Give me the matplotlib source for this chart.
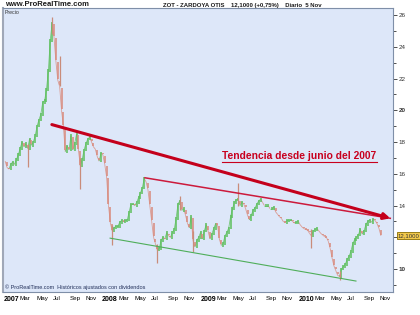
import numpy as np
import pandas as pd
import matplotlib
matplotlib.use('Agg')
import matplotlib.pyplot as plt
import matplotlib.dates as mdates
from matplotlib.collections import LineCollection

plt.rcParams['font.family'] = ['Liberation Sans', 'DejaVu Sans']

# weekly closes, 5 Jan 2007 -> 5 Nov 2010
dates = pd.date_range('2007-01-05', '2010-11-05', freq='W-FRI')
closes = [16.8, 16.4, 16.3, 16.6, 16.75, 16.6, 16.9, 17.2, 17.6, 18.0,
          17.7, 17.9, 17.6, 18.2, 17.8, 18.0, 18.4, 19.0, 19.4, 19.75,
          20.5, 20.6, 21.3, 22.5, 24.4, 25.5, 24.6, 23.1, 21.9, 21.5,
          20.0, 19.0, 17.4, 17.75, 17.5, 18.4, 17.5, 17.9, 18.5, 17.5,
          16.5, 16.9, 17.5, 17.9, 18.2, 18.3, 18.0, 17.7, 17.55, 17.1,
          16.8, 17.3, 17.2, 16.6, 15.8, 14.0, 12.9, 12.4, 12.6, 12.7,
          12.7, 12.95, 13.05, 13.0, 13.05, 13.1, 13.6, 14.1, 14.1, 14.0,
          14.2, 14.5, 14.8, 15.1, 15.7, 15.5, 15.0, 14.0, 13.0, 12.0,
          11.6, 11.2, 11.3, 11.8, 12.0, 11.9, 12.3, 12.1, 12.0, 12.3,
          12.5, 13.2, 14.1, 14.3, 13.7, 13.8, 13.4, 12.9, 12.6, 13.3,
          11.8, 11.4, 11.8, 12.0, 12.3, 11.9, 12.4, 12.8, 12.4, 11.9,
          12.2, 12.55, 12.85, 12.8, 11.9, 11.5, 11.6, 12.1, 12.3, 12.6,
          13.3, 13.8, 14.2, 14.35, 14.4, 14.0, 14.2, 14.1, 13.8, 13.4,
          13.1, 13.4, 13.7, 13.85, 14.1, 14.3, 14.4, 14.2, 14.0, 14.0,
          14.0, 13.8, 13.8, 13.9, 13.6, 13.45, 13.3, 13.2, 13.0, 12.95,
          13.05, 13.1, 13.1, 13.0, 12.9, 12.95, 13.0, 12.8, 12.65, 12.55,
          12.5, 12.45, 12.25, 12.1, 12.4, 12.5, 12.55, 12.4, 12.25, 12.15,
          12.05, 12.0, 11.75, 11.3, 10.7, 10.2, 9.9, 9.6, 9.55, 10.0,
          10.15, 10.3, 10.6, 10.8, 11.1, 11.6, 11.85, 12.0, 12.15, 12.5,
          12.2, 12.4, 12.8, 13.0, 13.1, 12.95, 13.15, 13.05, 12.85, 12.55,
          12.1]

# weeks whose intraday range sticks out of the line
spike_week = [12, 25, 29, 40, 57, 81, 93, 100, 124, 163, 178]
spike_low = [16.4, 24.8, 21.5, 15.05, 11.5, 10.4, 13.7, 11.1, 14.0, 11.3, 9.3]
spike_high = [17.9, 25.9, 23.4, 17.0, 12.8, 11.6, 14.6, 12.4, 15.4, 12.5, 9.9]

# trend lines (date, price)
trend_main = (['2007-06-28', '2010-12-10'], [19.1, 13.2])
trend_thin = (['2008-06-09', '2010-12-10'], [15.75, 13.2])
trend_low = (['2008-01-31', '2010-08-04'], [11.95, 9.25])

last_price = 12.1
month_labels = ['2007', 'Mar', 'May', 'Jul', 'Sep', 'Nov',
                '2008', 'Mar', 'May', 'Jul', 'Sep', 'Nov',
                '2009', 'Mar', 'May', 'Jul', 'Sep', 'Nov',
                '2010', 'Mar', 'May', 'Jul', 'Sep', 'Nov']

fig = plt.figure(figsize=(4.2, 3.15), dpi=100)
ax = fig.add_axes([3/420, 1 - 292/315, 390/420, 284/315])
ax.set_facecolor('#dde7f9')

x = mdates.date2num(dates)
c = np.array(closes)
up = '#5cbf5c'
down = '#d98a7c'
cols = [up if c[i + 1] >= c[i] else down for i in range(len(c) - 1)]
# thin link between weeks, then bar bodies from previous close to close
segs = [[(x[i], c[i]), (x[i + 1], c[i + 1])] for i in range(len(c) - 1)]
ax.add_collection(LineCollection(segs, colors=cols, linewidths=0.6, alpha=0.8))
bars = [[(x[i], c[i - 1] - 0.08), (x[i], c[i] + 0.08)] for i in range(1, len(c))]
ax.add_collection(LineCollection(bars, colors=cols, linewidths=1.1))
for w, lo, hi in zip(spike_week, spike_low, spike_high):
    ax.vlines(x[w], lo, hi, color='#c98c7a', lw=0.9)

for (dd, vv), col, lw in [(trend_main, '#c4001c', 2.2),
                          (trend_thin, '#cc1a3c', 1.1),
                          (trend_low, '#4fae5a', 0.8)]:
    xx = [mdates.datestr2num(s) for s in dd]
    if lw > 2:
        ax.annotate('', xy=(xx[1], vv[1]), xytext=(xx[0], vv[0]),
                    arrowprops=dict(arrowstyle='-|>', color=col, lw=lw,
                                    mutation_scale=9, shrinkA=0, shrinkB=0))
    else:
        ax.plot(xx, vv, color=col, lw=lw)

ax.text(0.76, 0.479, 'Tendencia desde junio del 2007', transform=ax.transAxes,
        color='#c8001e', fontsize=7.4, fontweight='bold', ha='center', va='center')
ax.plot([0.5615, 0.959], [0.456, 0.456], transform=ax.transAxes, color='#c8001e', lw=0.8)

ax.set_xlim(mdates.datestr2num('2006-12-28'), mdates.datestr2num('2010-12-20'))
ax.set_ylim(8.56, 26.44)

ticks = pd.date_range('2007-01-01', '2010-11-01', freq='2MS')
ax.set_xticks(mdates.date2num(ticks))
ax.set_xticklabels(month_labels, fontsize=4.5)
for lab in ax.get_xticklabels():
    if lab.get_text().isdigit():
        lab.set_fontweight('bold')
        lab.set_fontsize(5)
    lab.set_horizontalalignment('left')
ax.tick_params(axis='x', length=0, pad=3)

ax.yaxis.tick_right()
ax.set_yticks(np.arange(10, 27, 2))
ax.set_yticks(np.arange(9, 27, 2), minor=True)
ax.set_yticklabels(['' if v == 12 else str(v) for v in range(10, 27, 2)], fontsize=4.5)
for lab in ax.get_yticklabels():
    if lab.get_text() in ('10', '20'):
        lab.set_fontweight('bold')
ax.tick_params(axis='y', which='major', length=3, width=0.6, pad=1, colors='#333333')
ax.tick_params(axis='y', which='minor', length=2, width=0.6, colors='#333333')

for s in ax.spines.values():
    s.set_color('#7f8fa8')
    s.set_linewidth(0.8)
ax.spines['left'].set_color('#a0a8b8')
ax.spines['left'].set_linewidth(1.5)

ax.text(1.012, last_price, '12,1000', transform=ax.get_yaxis_transform(),
        fontsize=4.3, va='center', ha='left', color='#333333',
        bbox=dict(boxstyle='square,pad=0.15', fc='#f2c94c', ec='#8a6d00', lw=0.6))

ax.text(0.005, 0.993, 'Precio', transform=ax.transAxes, fontsize=3.8, va='top', color='#333333')
ax.text(0.005, 0.008, '© ProRealTime.com  Históricos ajustados con dividendos',
        transform=ax.transAxes, fontsize=4, va='bottom', color='#22305a')

fig.text(5/420, 1 - 5/315, 'www.ProRealTime.com', fontsize=5.5, fontweight='bold',
         va='center', color='#1a1a1a')
fig.text(242/420, 1 - 5/315, 'ZOT - ZARDOYA OTIS    12,1000 (+0,75%)    Diario  5 Nov',
         fontsize=4.3, fontweight='bold', va='center', ha='center', color='#1a1a1a')

fig.savefig('out.png', dpi=100, facecolor='white')
